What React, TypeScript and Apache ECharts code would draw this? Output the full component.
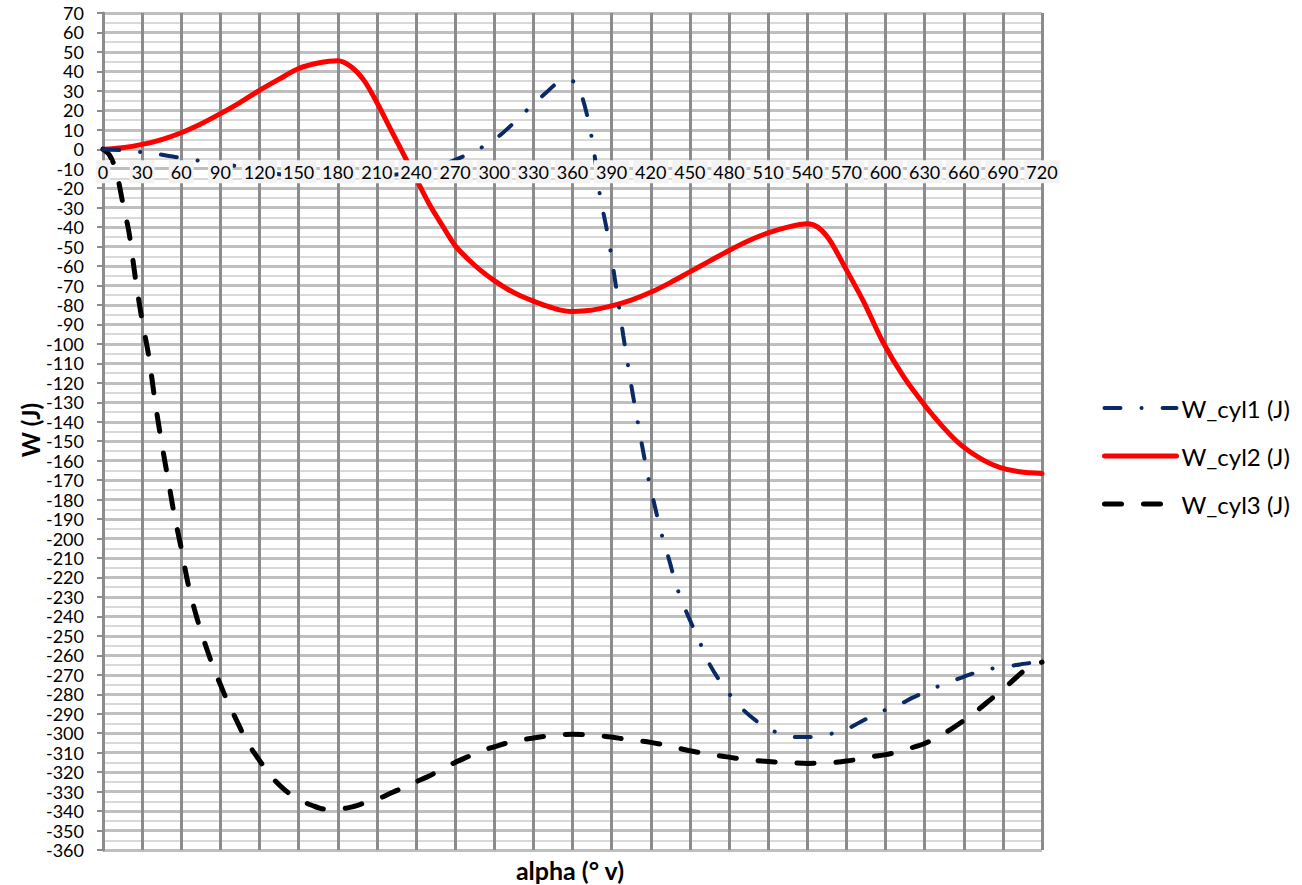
import React, { useEffect, useRef } from "react";
import * as echarts from "echarts";

const X_MIN = 0;
const X_MAX = 720;
const X_STEP = 30;
const Y_MIN = -360;
const Y_MAX = 70;
const Y_STEP = 10;

const SERIES_NAMES = ["W_cyl1 (J)", "W_cyl2 (J)", "W_cyl3 (J)"];

const CYL1_ANGLE = [0, 15, 30, 45, 60, 75, 90, 105, 120, 135, 150, 165, 180, 195, 210, 225, 240, 255, 265, 275, 285, 295, 305, 317, 329, 339, 349, 356, 360, 363, 367, 371.5, 376, 381, 386, 390, 395, 399, 403, 406, 410, 414, 418, 423, 428, 434, 440, 447.5, 456.5, 465.5, 477, 490.5, 502.5, 510, 520, 530, 540, 550, 560, 570, 580, 590, 600, 610, 620, 630, 640, 650, 660, 670, 680, 690, 700, 710, 720];
const CYL1_W = [0, -0.5, -1.5, -2.8, -4.5, -6, -7.4, -9, -11, -12.8, -13.5, -14, -14, -14, -13.5, -13, -11.5, -9.3, -6.8, -4, -1.2, 3, 7.5, 14.9, 22.6, 28.6, 34.4, 35.5, 35, 33.7, 27.7, 16.6, 1.2, -23.5, -40.3, -55.8, -78, -96, -112.8, -125, -140, -154.6, -168.5, -183, -197, -210.7, -225, -238, -251.5, -265, -277, -287.7, -294.5, -297.5, -300.5, -302, -302, -301.5, -300, -298, -294.5, -291, -288, -285.5, -282, -279, -276, -273.5, -271, -268.7, -267, -266, -265, -264, -263.5];

const CYL2_ANGLE = [0, 15, 30, 45, 60, 75, 90, 105, 120, 135, 150, 165, 180, 190, 200, 210, 220, 230, 240, 250, 260, 270, 280, 290, 300, 310, 320, 330, 340, 350, 360, 370, 380, 390, 405, 420, 435, 450, 465, 480, 495, 510, 525, 540, 548, 557, 568, 583, 598, 614, 629, 644, 658, 675, 688, 703, 720];
const CYL2_W = [0, 0.8, 2.5, 5, 8.5, 13, 18.3, 24, 30.3, 36, 41.5, 44.3, 45.5, 42.5, 35.5, 24, 11, -2, -15, -28, -39, -49.5, -56.5, -62.5, -67.5, -71.8, -75.3, -78, -80.5, -82.5, -83.4, -83, -82, -80.5, -77.5, -73.5, -68.5, -63, -57.5, -52, -47, -43, -40, -38.3, -40, -46.5, -59.5, -78, -99, -117, -130.6, -142.6, -152, -159.7, -163.5, -165.7, -166.6];

const CYL3_ANGLE = [0, 5, 10, 15, 20, 25, 30, 35, 40, 45, 50, 55, 60, 65, 70, 75, 80, 85, 90, 95, 100, 105, 110, 120, 130, 140, 150, 160, 170, 180, 190, 200, 210, 220, 230, 240, 250, 260, 270, 280, 290, 300, 310, 320, 330, 340, 350, 360, 370, 380, 390, 400, 410, 420, 430, 440, 450, 460, 470, 480, 490, 500, 510, 520, 530, 540, 550, 560, 570, 580, 590, 600, 610, 620, 630, 640, 650, 660, 670, 680, 690, 700, 710, 720];
const CYL3_W = [0, -3, -11, -27, -43, -67, -88, -106, -130, -151, -170, -189, -205, -222.5, -236, -247.5, -257.5, -267, -275, -283, -290, -297, -304, -314, -323, -329.5, -334, -337, -339, -339, -338, -336, -334, -331, -328, -325, -322, -318.5, -315, -312, -309, -307, -305, -303.5, -302.5, -301.5, -300.8, -300.5, -300.8, -301.3, -302, -303, -303.8, -304.7, -306, -307.5, -309, -310.3, -311.3, -312.3, -313.3, -314, -314.5, -315, -315.3, -315.5, -315.3, -315, -314.3, -313.3, -312, -311, -309.5, -307.5, -305.3, -302, -298, -293.5, -288.5, -283, -277.5, -271.5, -266, -263.5];

const X_TITLE = "alpha (° v)";
const Y_TITLE = "W (J)";

const pairs = (xs: number[], ys: number[]) => xs.map((x, i) => [x, ys[i]]);

const FONT = "Lato, 'Open Sans', sans-serif";

const STYLE1 = { color: "#0a2a66", width: 4, type: [16, 21, 0.1, 21], cap: "round" };
const STYLE2 = { color: "#ff0000", width: 5, type: "solid", cap: "round" };
const STYLE3 = { color: "#000000", width: 5, type: [17, 22], cap: "round" };

const W = 1302;
const H = 885;
const GRID = { left: 103, right: 260, top: 13, bottom: 35 };

export default function App() {
  const ref = useRef<HTMLDivElement>(null);

  useEffect(() => {
    if (!ref.current) return;
    const chart = echarts.init(ref.current, undefined, { renderer: "svg" });
    const gridH = H - GRID.top - GRID.bottom;
    // distance from the bottom edge of the plot up to the value 0 line
    const zeroOffset = -(gridH * (0 - Y_MIN)) / (Y_MAX - Y_MIN);
    const option: any = {
      animation: false,
      backgroundColor: "#ffffff",
      grid: { ...GRID, containLabel: false },
      xAxis: [
        {
          type: "value",
          min: X_MIN,
          max: X_MAX,
          interval: X_STEP,
          position: "bottom",
          axisLine: { show: false, onZero: false },
          axisTick: { show: false },
          axisLabel: { show: false },
          splitLine: { show: true, lineStyle: { color: "#8c8c8c", width: 3 } },
          z: 0,
        },
        {
          type: "value",
          min: X_MIN,
          max: X_MAX,
          interval: X_STEP,
          position: "bottom",
          offset: zeroOffset,
          axisLine: { show: false, onZero: false },
          axisTick: { show: false },
          splitLine: { show: false },
          axisLabel: {
            show: true,
            fontFamily: FONT,
            fontSize: 18,
            color: "#000",
            backgroundColor: "#f2f2f2",
            padding: [3, 2, 2, 2],
            margin: 11,
          },
          z: 10,
        },
      ],
      yAxis: {
        type: "value",
        min: Y_MIN,
        max: Y_MAX,
        interval: Y_STEP,
        axisLine: { show: true, onZero: false, lineStyle: { color: "#8c8c8c", width: 3 } },
        axisTick: { show: true, length: 6, lineStyle: { color: "#8c8c8c", width: 2 } },
        axisLabel: { fontFamily: FONT, fontSize: 18, color: "#000", margin: 19 },
        splitLine: { show: true, lineStyle: { color: "#bfbfbf", width: 3 } },
        minorTick: { show: false, splitNumber: 2 },
        minorSplitLine: { show: true, lineStyle: { color: "#d9d9d9", width: 2 } },
      },
      legend: {
        orient: "vertical",
        left: 1097,
        top: 389,
        itemWidth: 72,
        itemHeight: 14,
        itemGap: 20,
        itemStyle: { opacity: 0 },
        data: [
          { name: SERIES_NAMES[0], lineStyle: STYLE1, itemStyle: { opacity: 0 } },
          { name: SERIES_NAMES[1], lineStyle: STYLE2, itemStyle: { opacity: 0 } },
          { name: SERIES_NAMES[2], lineStyle: STYLE3, itemStyle: { opacity: 0 } },
        ],
        textStyle: { fontFamily: FONT, fontSize: 24, color: "#000", lineHeight: 28 },
      },
      graphic: [
        {
          type: "text",
          x: 570,
          y: 870,
          style: { text: X_TITLE, font: `bold 25px ${FONT}`, fill: "#000", align: "center", verticalAlign: "middle" },
        },
        {
          type: "text",
          x: 30,
          y: 430,
          rotation: Math.PI / 2,
          style: { text: Y_TITLE, font: `bold 24px ${FONT}`, fill: "#000", align: "center", verticalAlign: "middle" },
        },
      ],
      series: [
        {
          name: SERIES_NAMES[0],
          type: "line",
          xAxisIndex: 0,
          data: pairs(CYL1_ANGLE, CYL1_W),
          symbol: "none",
          showSymbol: false,
          smooth: 0.3,
          lineStyle: STYLE1,
          itemStyle: { color: STYLE1.color },
          z: 3,
        },
        {
          name: SERIES_NAMES[1],
          type: "line",
          xAxisIndex: 0,
          data: pairs(CYL2_ANGLE, CYL2_W),
          symbol: "none",
          showSymbol: false,
          smooth: 0.3,
          lineStyle: STYLE2,
          itemStyle: { color: STYLE2.color },
          z: 2,
        },
        {
          name: SERIES_NAMES[2],
          type: "line",
          xAxisIndex: 0,
          data: pairs(CYL3_ANGLE, CYL3_W),
          symbol: "none",
          showSymbol: false,
          smooth: 0.3,
          lineStyle: STYLE3,
          itemStyle: { color: STYLE3.color },
          z: 2,
        },
      ],
    };
    chart.setOption(option);
    return () => chart.dispose();
  }, []);

  return (
    <div
      ref={ref}
      style={{ position: "fixed", left: 0, top: 0, width: W, height: H, background: "#fff" }}
    />
  );
}
